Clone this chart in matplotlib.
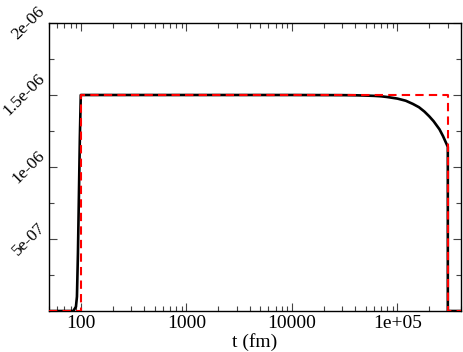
import numpy as np
import matplotlib
matplotlib.use("Agg")
import matplotlib.pyplot as plt
from matplotlib.ticker import LogLocator, MultipleLocator, FixedLocator, FixedFormatter, NullFormatter

plt.rcParams['font.family'] = ['Liberation Serif', 'DejaVu Serif']

# black solid curve
t_black = [50, 85, 90, 92, 94, 96, 98, 100, 1000, 10000, 30000, 40000, 50000,
           60000, 70000, 80000, 100000, 120000, 140000, 160000, 180000,
           200000, 220000, 250000, 270000, 300000, 300000, 400000]
y_black = [0, 0, 0.03e-6, 0.1e-6, 0.4e-6, 0.8e-6, 1.2e-6, 1.5e-6, 1.5e-6,
           1.5e-6, 1.499e-6, 1.498e-6, 1.496e-6, 1.494e-6, 1.491e-6, 1.486e-6,
           1.475e-6, 1.46e-6, 1.438e-6, 1.415e-6, 1.385e-6, 1.352e-6,
           1.318e-6, 1.262e-6, 1.215e-6, 1.14e-6, 0, 0]

# red dashed step
t_red = [50, 100, 100, 300000, 300000, 400000]
y_red = [0, 0, 1.5e-6, 1.5e-6, 0, 0]

x_ticks = [100, 1000, 10000, 100000]
x_labels = ["100", "1000", "10000", "1e+05"]
y_ticks = [0, 5e-7, 1e-6, 1.5e-6, 2e-6]
y_labels = ["", "5e-07", "1e-06", "1.5e-06", "2e-06"]

fig = plt.figure(figsize=(4.63, 3.52), dpi=100)
ax = fig.add_axes([49 / 463, 41 / 352, 412 / 463, 288 / 352])

ax.plot(t_black, y_black, color="black", lw=1.9, zorder=3)
ax.plot(t_red, y_red, color="red", lw=1.5, dashes=(4, 2.5), zorder=4)

ax.set_xscale("log")
ax.set_xlim(50, 4e5)
ax.set_ylim(0, 2e-6)

ax.xaxis.set_major_locator(FixedLocator(x_ticks))
ax.xaxis.set_major_formatter(FixedFormatter(x_labels))
ax.xaxis.set_minor_locator(LogLocator(base=10, subs=np.arange(2, 10)))
ax.xaxis.set_minor_formatter(NullFormatter())
ax.yaxis.set_major_locator(FixedLocator(y_ticks))
ax.yaxis.set_major_formatter(FixedFormatter(y_labels))
ax.yaxis.set_minor_locator(MultipleLocator(2.5e-7))

ax.tick_params(which="both", direction="in", top=True, right=True,
               width=0.8, color="#444444")
ax.tick_params(axis="x", labelsize=14, pad=3)
ax.tick_params(axis="y", labelsize=12.5, pad=0.5)
ax.tick_params(which="major", length=6)
ax.tick_params(which="minor", length=3.5)
for lab in ax.get_yticklabels():
    lab.set_rotation(45)
    lab.set_rotation_mode("default")
    lab.set_ha("right")
    lab.set_va("center")

for s in ax.spines.values():
    s.set_linewidth(1.0)

ax.set_xlabel("t (fm)", fontsize=14, labelpad=1)

fig.savefig("out.png", dpi=100)
